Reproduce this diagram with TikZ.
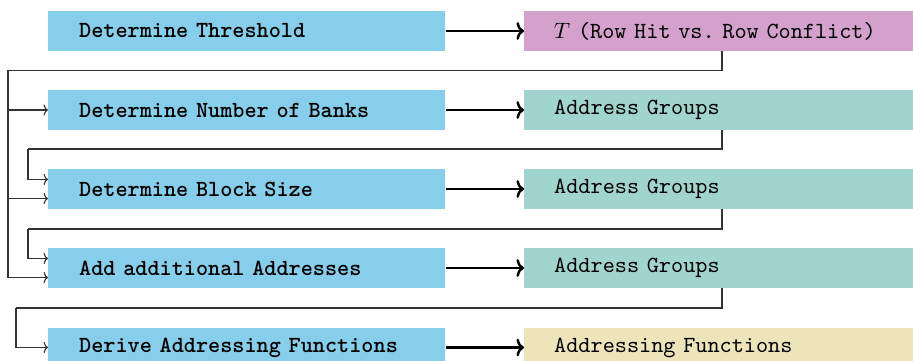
\documentclass[tikz,border=0pt]{standalone}
\usetikzlibrary{calc,arrows.meta}
\definecolor{stepblue}{RGB}{135,206,235}
\definecolor{respink}{RGB}{212,160,204}
\definecolor{resteal}{RGB}{162,212,206}
\definecolor{resyellow}{RGB}{237,228,188}
\begin{document}
\begin{tikzpicture}[x=0.45pt,y=-0.45pt,
  stepbox/.style={fill=stepblue, draw=none, anchor=west, minimum width=178.65pt,
    minimum height=17.8pt, inner xsep=13.8pt, text width=151pt, align=left,
    font=\fontsize{10.4}{12}\selectfont\ttfamily\bfseries},
  resbox/.style={fill=#1, draw=none, anchor=west, minimum width=178.2pt,
    minimum height=17.8pt, inner xsep=13.4pt, text width=151.4pt, align=left,
    font=\fontsize{10.4}{12}\selectfont\ttfamily},
  flow/.style={line width=1.1pt, -{To[length=3.4pt,width=8pt]}},
  feed/.style={line width=0.5pt, draw=black!80, -{To[length=2pt,width=5pt]}},
  link/.style={line width=0.5pt, draw=black!80}]
\useasboundingbox (0,0) rectangle (913,361);
\clip (0,0) rectangle (913,361);

% processing steps
\node[stepbox] (d1) at (48,31) {\mbox{Determine Threshold}};
\node[stepbox] (d2) at (48,110) {\mbox{Determine Number of Banks}};
\node[stepbox] (d3) at (48,189) {\mbox{Determine Block Size}};
\node[stepbox] (d4) at (48,268) {\mbox{Add additional Addresses}};
\node[stepbox] (d5) at (48,347.5) {\mbox{Derive Addressing Functions}};

% results of each step
\node[resbox=respink] (r1) at (524,31) {\mbox{$T$ (Row Hit vs.\ Row Conflict)}};
\node[resbox=resteal] (r2) at (524,110) {\mbox{Address Groups}};
\node[resbox=resteal] (r3) at (524,189) {\mbox{Address Groups}};
\node[resbox=resteal] (r4) at (524,268) {\mbox{Address Groups}};
\node[resbox=resyellow] (r5) at (524,347.5) {\mbox{Addressing Functions}};

% step -> result
\foreach \i in {1,...,5} \draw[flow] (d\i.east) -- (r\i.west);

% threshold is fed back to every later step
\coordinate (t1) at ($(r1.south west)+(198,0)$);
\coordinate (bus) at (8,70.5);
\draw[link] (t1) |- (bus);
\draw[feed] (bus) |- (d2.west);
\draw[feed] (bus) |- ($(d3.west)+(0,9.5)$);
\draw[feed] (bus) |- ($(d4.west)+(0,9.5)$);

% address groups feed the next step
\coordinate (g2) at ($(r2.south west)+(198,0)$);
\coordinate (k2) at (28,149);
\draw[link] (g2) |- (k2);
\draw[feed] (k2) |- ($(d3.west)+(0,-9.5)$);

\coordinate (g3) at ($(r3.south west)+(198,0)$);
\coordinate (k3) at (28,229);
\draw[link] (g3) |- (k3);
\draw[feed] (k3) |- ($(d4.west)+(0,-9.5)$);

\coordinate (g4) at ($(r4.south west)+(198,0)$);
\coordinate (k4) at (16,308);
\draw[link] (g4) |- (k4);
\draw[feed] (k4) |- (d5.west);
\end{tikzpicture}
\end{document}
